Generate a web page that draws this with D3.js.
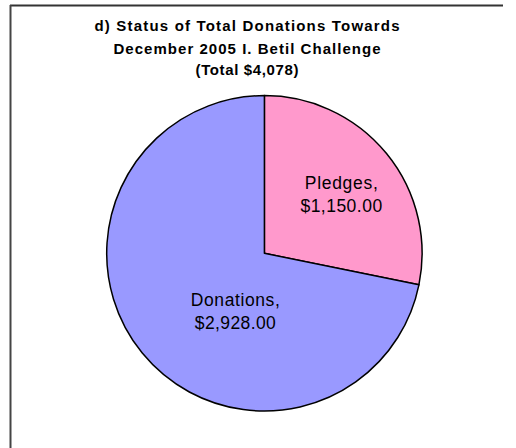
<!DOCTYPE html>
<html>
<head>
<meta charset="utf-8">
<script src="https://cdn.jsdelivr.net/npm/d3@7/dist/d3.min.js"></script>
<style>
  html, body { margin: 0; padding: 0; background: #fff; }
  svg { display: block; }
</style>
</head>
<body>
<div id="chart"></div>
<script>
const categories = ["Pledges", "Donations"];
const values = [1150.00, 2928.00];
const colors = ["#FF99CC", "#9999FF"];
const titleLines = ["d) Status of Total Donations Towards", "December 2005 I. Betil Challenge", "(Total $4,078)"];

const W = 516, H = 448;
const svg = d3.select("#chart").append("svg").attr("width", W).attr("height", H);

// frame (top and left edges visible)
svg.append("line").attr("x1", 10).attr("y1", 5.5).attr("x2", 503).attr("y2", 5.5)
  .attr("stroke", "#333").attr("stroke-width", 2);
svg.append("line").attr("x1", 10.5).attr("y1", 5).attr("x2", 10.5).attr("y2", H)
  .attr("stroke", "#444").attr("stroke-width", 2);

// title
const titleW = [305, 267, 103];
const titleY = [30.7, 53.5, 75];
svg.append("g").selectAll("text").data(titleLines).join("text")
  .attr("x", 247).attr("y", (d, i) => titleY[i])
  .attr("text-anchor", "middle")
  .attr("font-family", "Liberation Sans, Arial, sans-serif")
  .attr("font-weight", "bold").attr("font-size", 15)
  .attr("textLength", (d, i) => titleW[i]).attr("lengthAdjust", "spacing")
  .attr("fill", "#000")
  .text(d => d);

const cx = 264.4, cy = 253.3, R = 157.7;
const pie = d3.pie().sort(null).value(d => d.value);
const data = categories.map((c, i) => ({ name: c, value: values[i], color: colors[i] }));
const arcs = pie(data);
const arc = d3.arc().innerRadius(0).outerRadius(R);

const g = svg.append("g").attr("transform", `translate(${cx},${cy})`);
g.selectAll("path").data(arcs).join("path")
  .attr("d", arc)
  .attr("fill", d => d.data.color)
  .attr("stroke", "#000").attr("stroke-width", 1.5)
  .attr("stroke-linejoin", "round");

// labels
const fmt = d3.format(",.2f");
const labelArc = d3.arc().innerRadius(R * 0.6).outerRadius(R * 0.6);
const labelOffsets = [[3.6, -4], [44.2, -7.2]];
const lw = [[73, 81.7], [89, 81]];
arcs.forEach((a, i) => {
  const [x, y] = labelArc.centroid(a);
  const lx = x + labelOffsets[i][0], ly = y + labelOffsets[i][1];
  const t = g.append("text")
    .attr("text-anchor", "middle")
    .attr("font-family", "Liberation Sans, Arial, sans-serif")
    .attr("font-size", 17.5).attr("fill", "#000");
  t.append("tspan").attr("x", lx).attr("y", ly)
    .attr("textLength", lw[i][0]).attr("lengthAdjust", "spacing")
    .text(a.data.name + ",");
  t.append("tspan").attr("x", lx).attr("y", ly + 23)
    .attr("textLength", lw[i][1]).attr("lengthAdjust", "spacing")
    .text("$" + fmt(a.data.value));
});
</script>
</body>
</html>
